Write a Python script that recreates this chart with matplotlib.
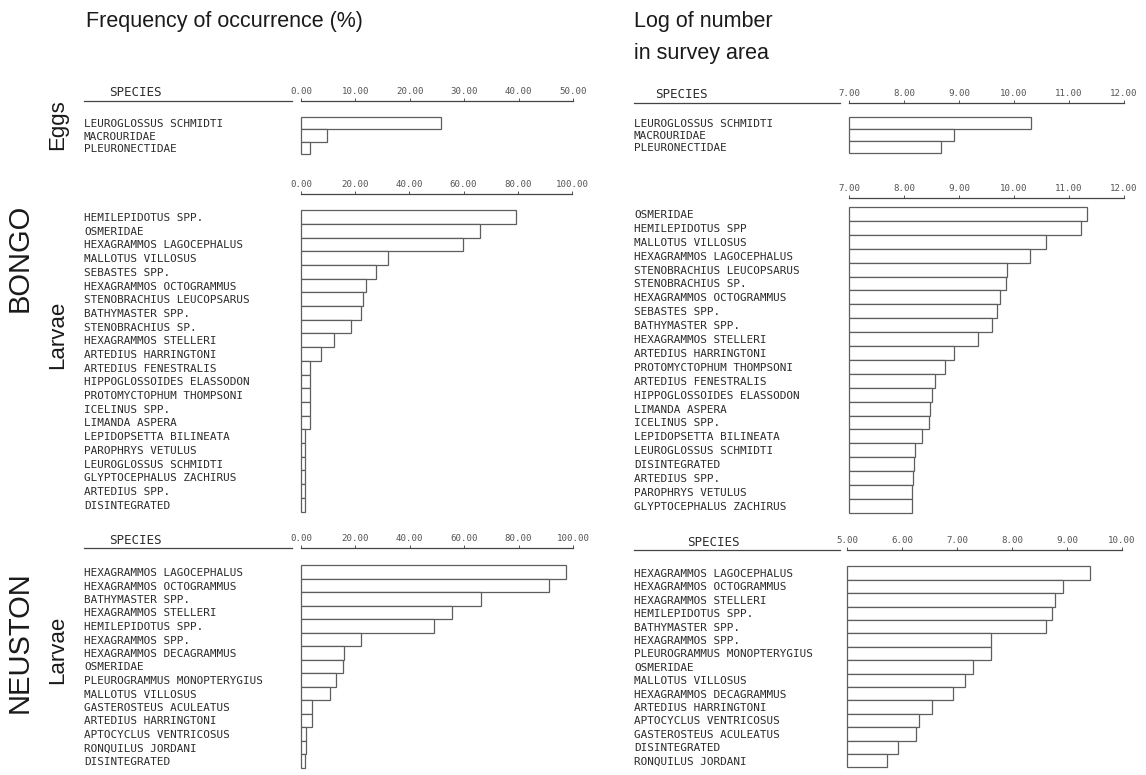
import matplotlib
matplotlib.use("Agg")
import matplotlib.pyplot as plt
import matplotlib.lines as mlines

W, H = 1146, 775

# ---- data ----
eggs_species = ["LEUROGLOSSUS SCHMIDTI", "MACROURIDAE", "PLEURONECTIDAE"]
eggs_freq = [25.8, 4.8, 1.6]
eggs_log = [10.31, 8.90, 8.68]

bongo_freq_species = [
    "HEMILEPIDOTUS SPP.", "OSMERIDAE", "HEXAGRAMMOS LAGOCEPHALUS", "MALLOTUS VILLOSUS",
    "SEBASTES SPP.", "HEXAGRAMMOS OCTOGRAMMUS", "STENOBRACHIUS LEUCOPSARUS",
    "BATHYMASTER SPP.", "STENOBRACHIUS SP.", "HEXAGRAMMOS STELLERI", "ARTEDIUS HARRINGTONI",
    "ARTEDIUS FENESTRALIS", "HIPPOGLOSSOIDES ELASSODON", "PROTOMYCTOPHUM THOMPSONI",
    "ICELINUS SPP.", "LIMANDA ASPERA", "LEPIDOPSETTA BILINEATA", "PAROPHRYS VETULUS",
    "LEUROGLOSSUS SCHMIDTI", "GLYPTOCEPHALUS ZACHIRUS", "ARTEDIUS SPP.", "DISINTEGRATED",
]
bongo_freq = [79.5, 66.0, 59.7, 32.0, 27.5, 24.0, 23.0, 22.0, 18.3, 12.0, 7.3,
              3.2, 3.2, 3.2, 3.2, 3.2, 1.6, 1.6, 1.6, 1.6, 1.6, 1.6]

bongo_log_species = [
    "OSMERIDAE", "HEMILEPIDOTUS SPP", "MALLOTUS VILLOSUS", "HEXAGRAMMOS LAGOCEPHALUS",
    "STENOBRACHIUS LEUCOPSARUS", "STENOBRACHIUS SP.", "HEXAGRAMMOS OCTOGRAMMUS",
    "SEBASTES SPP.", "BATHYMASTER SPP.", "HEXAGRAMMOS STELLERI", "ARTEDIUS HARRINGTONI",
    "PROTOMYCTOPHUM THOMPSONI", "ARTEDIUS FENESTRALIS", "HIPPOGLOSSOIDES ELASSODON",
    "LIMANDA ASPERA", "ICELINUS SPP.", "LEPIDOPSETTA BILINEATA", "LEUROGLOSSUS SCHMIDTI",
    "DISINTEGRATED", "ARTEDIUS SPP.", "PAROPHRYS VETULUS", "GLYPTOCEPHALUS ZACHIRUS",
]
bongo_log = [11.33, 11.22, 10.58, 10.29, 9.87, 9.85, 9.75, 9.69, 9.60, 9.35, 8.90,
             8.75, 8.56, 8.50, 8.47, 8.45, 8.32, 8.20, 8.18, 8.16, 8.15, 8.14]

neuston_freq_species = [
    "HEXAGRAMMOS LAGOCEPHALUS", "HEXAGRAMMOS OCTOGRAMMUS", "BATHYMASTER SPP.",
    "HEXAGRAMMOS STELLERI", "HEMILEPIDOTUS SPP.", "HEXAGRAMMOS SPP.",
    "HEXAGRAMMOS DECAGRAMMUS", "OSMERIDAE", "PLEUROGRAMMUS MONOPTERYGIUS",
    "MALLOTUS VILLOSUS", "GASTEROSTEUS ACULEATUS", "ARTEDIUS HARRINGTONI",
    "APTOCYCLUS VENTRICOSUS", "RONQUILUS JORDANI", "DISINTEGRATED",
]
neuston_freq = [97.5, 91.0, 66.0, 55.5, 49.0, 22.0, 15.7, 15.3, 13.0, 10.5,
                4.0, 4.0, 1.8, 1.8, 1.5]

neuston_log_species = [
    "HEXAGRAMMOS LAGOCEPHALUS", "HEXAGRAMMOS OCTOGRAMMUS", "HEXAGRAMMOS STELLERI",
    "HEMILEPIDOTUS SPP.", "BATHYMASTER SPP.", "HEXAGRAMMOS SPP.",
    "PLEUROGRAMMUS MONOPTERYGIUS", "OSMERIDAE", "MALLOTUS VILLOSUS",
    "HEXAGRAMMOS DECAGRAMMUS", "ARTEDIUS HARRINGTONI", "APTOCYCLUS VENTRICOSUS",
    "GASTEROSTEUS ACULEATUS", "DISINTEGRATED", "RONQUILUS JORDANI",
]
neuston_log = [9.41, 8.92, 8.78, 8.72, 8.61, 7.62, 7.62, 7.29, 7.15, 6.92,
               6.54, 6.31, 6.26, 5.93, 5.72]

freq_ticks_eggs = [0, 10, 20, 30, 40, 50]
freq_ticks = [0, 20, 40, 60, 80, 100]
log_ticks_bongo = [7, 8, 9, 10, 11, 12]
log_ticks_neuston = [5, 6, 7, 8, 9, 10]

TXT = "#2b2b2b"
EDGE = "#5e5e5e"
MONO = "DejaVu Sans Mono"
SANS = "Liberation Sans"

fig = plt.figure(figsize=(W / 100, H / 100), dpi=100)


def fx(x):
    return x / W


def fy(y):
    return 1 - y / H


def panel(x0, x1, axis_y, first, sp, species, values, ticks, label_x):
    n = len(species)
    bottom = first + (n - 1) * sp + sp / 2
    ax = fig.add_axes([fx(x0), fy(bottom), (x1 - x0) / W, (bottom - axis_y) / H])
    xmin, xmax = ticks[0], ticks[-1]
    widths = [v - xmin for v in values]
    ax.barh(range(n), widths, left=xmin, height=1.0, color="white",
            edgecolor=EDGE, linewidth=0.9, clip_on=False)
    ax.set_xlim(xmin, xmax)
    ax.set_ylim(n - 0.5, -(first - axis_y) / sp)
    for s in ["left", "right", "bottom"]:
        ax.spines[s].set_visible(False)
    ax.spines["top"].set_color("#444444")
    ax.spines["top"].set_linewidth(0.9)
    ax.xaxis.tick_top()
    ax.set_xticks(ticks)
    ax.set_xticklabels([f"{t:.2f}" for t in ticks], fontsize=6.6, family=MONO, color=TXT)
    ax.tick_params(axis="x", length=2, width=0.7, pad=1.5, colors="#555555")
    ax.set_yticks(range(n))
    ax.set_yticklabels(species, fontsize=7.9, family=MONO, color=TXT, ha="left")
    ax.tick_params(axis="y", length=0, pad=(x0 - label_x) * 0.72)
    return ax


def species_header(x_text, x_line0, x_line1, y):
    fig.text(fx(x_text), fy(y - 1.5), "SPECIES", fontsize=9, family=MONO,
             color=TXT, va="bottom")
    fig.add_artist(mlines.Line2D([fx(x_line0), fx(x_line1)], [fy(y), fy(y)],
                                 color="#444444", lw=0.9))


LX, RX = 84, 634

# left column: frequency of occurrence
panel(301, 573, 101, 123, 12.5, eggs_species, eggs_freq, freq_ticks_eggs, LX)
panel(301, 572, 194, 217, 13.7, bongo_freq_species, bongo_freq, freq_ticks, LX)
panel(301, 573, 548, 572, 13.5, neuston_freq_species, neuston_freq, freq_ticks, LX)
species_header(109, 84, 292, 101)
species_header(109, 84, 292, 548)

# right column: log of number
panel(849, 1124, 103, 123, 12.0, eggs_species, eggs_log, log_ticks_bongo, RX)
panel(849, 1124, 198, 214, 13.9, bongo_log_species, bongo_log, log_ticks_bongo, RX)
panel(847, 1122, 550, 573, 13.4, neuston_log_species, neuston_log, log_ticks_neuston, RX)
species_header(655, 634, 840, 103)
species_header(687, 634, 840, 550)

# headers
fig.text(fx(86), fy(22), "Frequency of occurrence (%)", fontsize=15.5, family=SANS,
         color="#1a1a1a", va="center")
fig.text(fx(634), fy(22), "Log of number", fontsize=15.5, family=SANS,
         color="#1a1a1a", va="center")
fig.text(fx(634), fy(53), "in survey area", fontsize=15.5, family=SANS,
         color="#1a1a1a", va="center")

# row labels
fig.text(fx(20), fy(258), "BONGO", fontsize=21, family=SANS, rotation=90,
         ha="center", va="center", color="#1a1a1a")
fig.text(fx(20), fy(642), "NEUSTON", fontsize=21, family=SANS, rotation=90,
         ha="center", va="center", color="#1a1a1a")
fig.text(fx(58), fy(125), "Eggs", fontsize=16, family=SANS, rotation=90,
         ha="center", va="center", color="#1a1a1a")
fig.text(fx(58), fy(335), "Larvae", fontsize=16, family=SANS, rotation=90,
         ha="center", va="center", color="#1a1a1a")
fig.text(fx(58), fy(650), "Larvae", fontsize=16, family=SANS, rotation=90,
         ha="center", va="center", color="#1a1a1a")

fig.savefig("out.png", dpi=100, facecolor="white")
